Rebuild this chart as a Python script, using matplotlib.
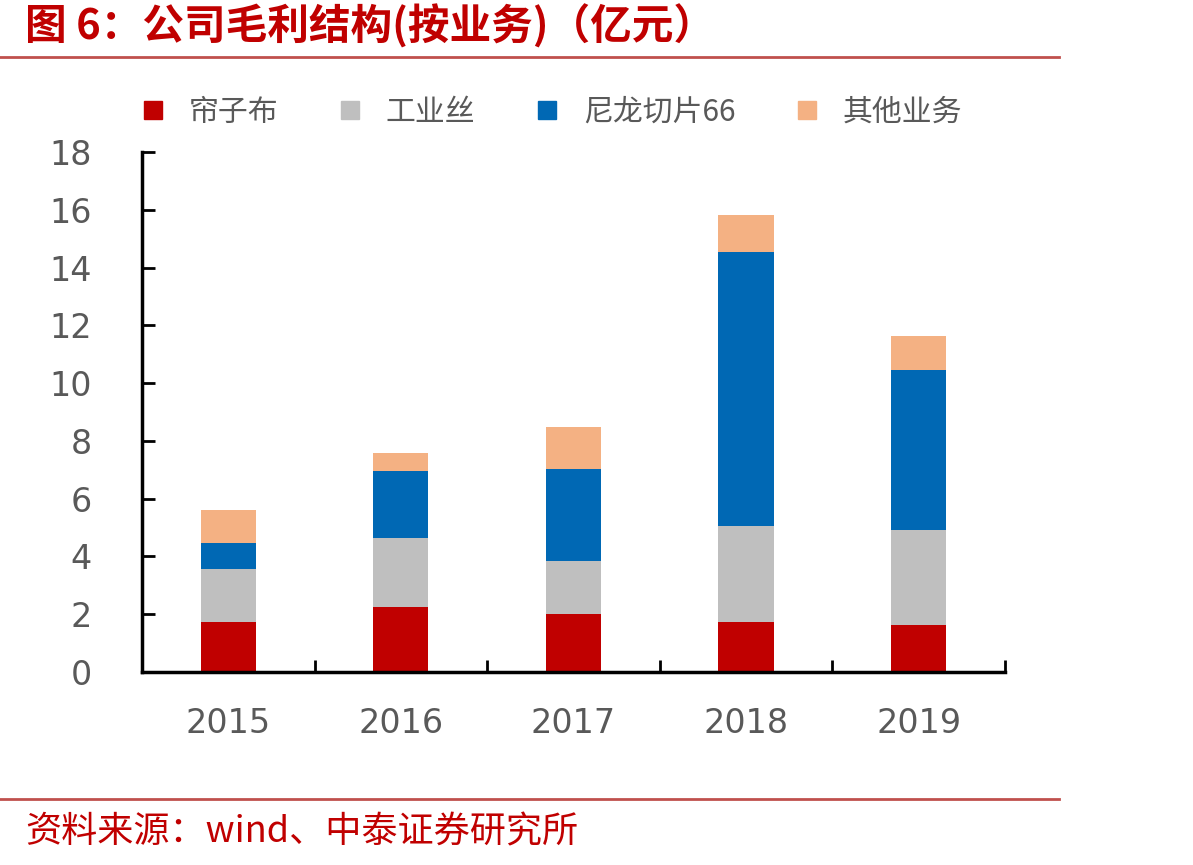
import matplotlib
matplotlib.use('Agg')
import matplotlib.pyplot as plt
from matplotlib.lines import Line2D
import numpy as np

plt.rcParams['font.family'] = ['Noto Sans CJK SC', 'DejaVu Sans']

# data (亿元)
years = ['2015', '2016', '2017', '2018', '2019']
series_names = ['帘子布', '工业丝', '尼龙切片66', '其他业务']
cord_fabric = [1.73, 2.25, 2.01, 1.73, 1.63]
industrial_yarn = [1.84, 2.40, 1.84, 3.33, 3.30]
nylon_chips = [0.90, 2.32, 3.19, 9.47, 5.54]
other = [1.15, 0.63, 1.46, 1.29, 1.18]
colors = ['#C00000', '#BFBFBF', '#0068B4', '#F4B183']

fig = plt.figure(figsize=(11.93, 8.65), dpi=100)
ax = fig.add_axes([0.119, 0.2231, 0.7234, 0.6010])

x = np.arange(len(years))
bottom = np.zeros(len(years))
for vals, c in zip([cord_fabric, industrial_yarn, nylon_chips, other], colors):
    ax.bar(x, vals, width=0.32, bottom=bottom, color=c, edgecolor='none')
    bottom += np.array(vals)

ax.set_xlim(-0.5, len(years) - 0.5)
ax.set_ylim(0, 18)
ax.set_yticks(range(0, 19, 2))
ax.set_xticks(x)
ax.set_xticklabels(years)
ax.set_xticks(np.arange(-0.5, len(years), 1), minor=True)
ax.tick_params(axis='x', which='major', length=0, pad=25, labelsize=24, colors='#595959')
ax.tick_params(axis='x', which='minor', direction='in', length=9, width=2, color='black')
ax.tick_params(axis='y', direction='in', length=9, width=2, color='black', pad=36,
               labelsize=24, labelcolor='#595959')
for lab in ax.get_yticklabels() + ax.get_xticklabels():
    lab.set_family('DejaVu Sans')
for s in ['top', 'right']:
    ax.spines[s].set_visible(False)
for s in ['left', 'bottom']:
    ax.spines[s].set_linewidth(2.5)

handles = [Line2D([], [], marker='s', linestyle='none', markersize=13, color=c) for c in colors]
fig.legend(handles, series_names, loc='center', bbox_to_anchor=(0.455, 0.870), ncol=4,
           frameon=False, fontsize=21.5, handletextpad=0.2, columnspacing=1.4,
           labelcolor='#595959')

# title and source
fig.text(0.021, 0.970, '图 6：公司毛利结构(按业务)（亿元）', color='#C00000', fontsize=30,
         fontweight='bold', va='center', ha='left')
fig.add_artist(Line2D([0, 0.888], [0.934, 0.934], color='#C0504D', lw=2, transform=fig.transFigure))
fig.add_artist(Line2D([0, 0.888], [0.076, 0.076], color='#C0504D', lw=2, transform=fig.transFigure))
fig.text(0.021, 0.038, '资料来源：wind、中泰证券研究所', color='#C00000', fontsize=26,
         va='center', ha='left')

fig.savefig('out.png', dpi=100)
